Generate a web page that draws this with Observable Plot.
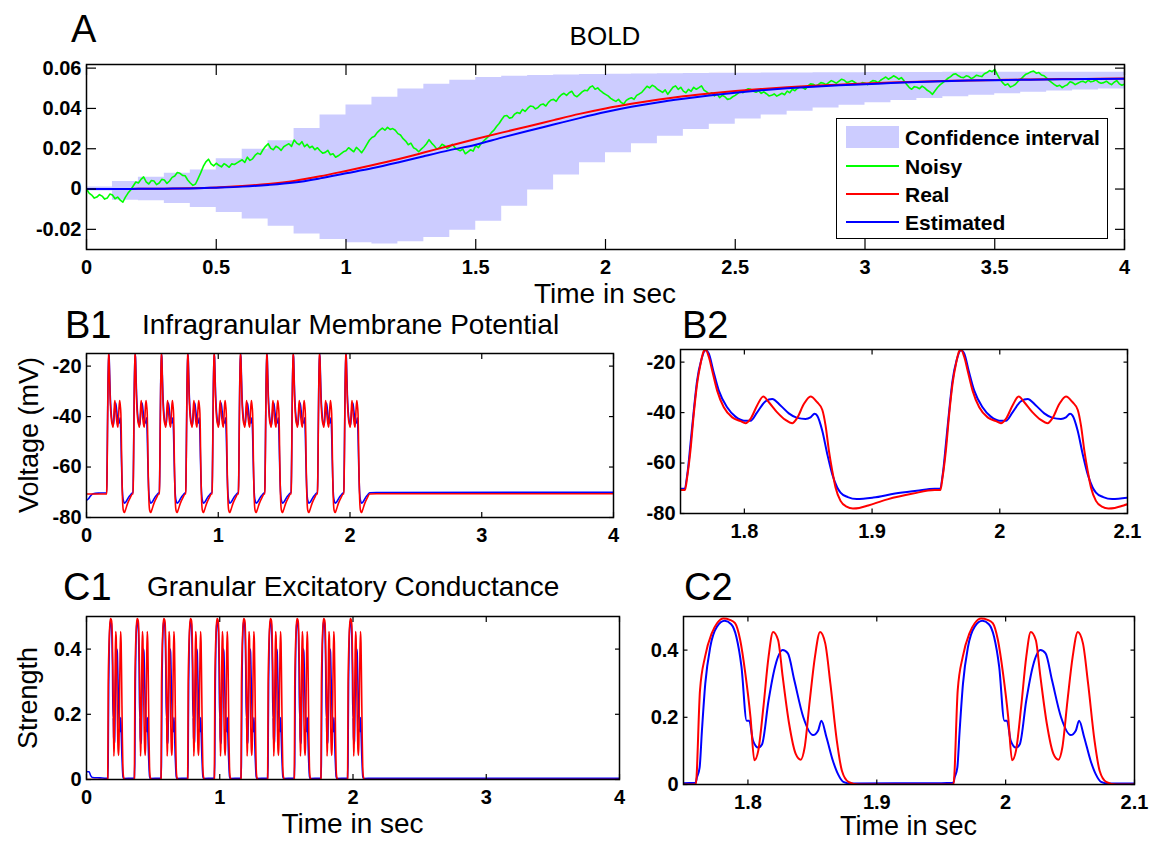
<!DOCTYPE html>
<html><head><meta charset="utf-8">
<script src="https://cdn.jsdelivr.net/npm/d3@7"></script>
<script src="https://cdn.jsdelivr.net/npm/@observablehq/plot@0.6"></script>
<style>
body{margin:0;background:#fff;}
#fig{position:relative;width:1162px;height:841px;font-family:"Liberation Sans",Arial,Helvetica,sans-serif;color:#000;overflow:hidden;background:#fff}
.t{position:absolute;white-space:nowrap;line-height:1}
</style></head><body><div id="fig"></div>
<script>
// ---------- Panel A : BOLD ----------
const boldStep = 0.1; // sampling of real / estimated / band
const bandHi = [0.001,0.0038,0.0058,0.0078,0.0094,0.0150,0.0198,0.0240,0.0300,0.0367,0.0417,0.0455,0.0496,0.0520,0.0540,0.0554,0.0560,0.0564,0.0566,0.0568,0.0570,0.0571,0.0572,0.0573,0.0574,0.0575,0.0576,0.0576,0.0577,0.0577,0.0578,0.0578,0.0578,0.0579,0.0579,0.0579,0.0579,0.0579,0.0579,0.0579,0.0579];
const bandLo = [-0.001,-0.0055,-0.0058,-0.0072,-0.0092,-0.0117,-0.0149,-0.0185,-0.0223,-0.0250,-0.0266,-0.0273,-0.0262,-0.0240,-0.0205,-0.0160,-0.0085,-0.0005,0.0070,0.0130,0.0180,0.0225,0.0262,0.0295,0.0322,0.0347,0.0368,0.0386,0.0402,0.0416,0.0428,0.0439,0.0449,0.0458,0.0466,0.0473,0.0480,0.0486,0.0491,0.0496,0.0500];
const realBold = [0,0,0.0001,0.0002,0.0004,0.0008,0.0015,0.0025,0.004,0.0063,0.009,0.0118,0.0148,0.0181,0.0215,0.0248,0.028,0.031,0.0342,0.0373,0.04,0.0423,0.0443,0.046,0.0474,0.0486,0.0496,0.0505,0.0512,0.0518,0.0524,0.0529,0.0533,0.0536,0.0539,0.0541,0.0543,0.0545,0.0546,0.0547,0.0548];
const estBold = [0,0,0.0001,0.0002,0.0003,0.0007,0.0012,0.002,0.0032,0.0053,0.0078,0.0103,0.0132,0.0163,0.0193,0.022,0.0255,0.0288,0.032,0.0352,0.0382,0.0408,0.043,0.0448,0.0464,0.0478,0.049,0.05,0.0508,0.0515,0.052,0.0526,0.0531,0.0535,0.0538,0.054,0.0542,0.0544,0.0545,0.0546,0.0547];
const noisyStep = 0.01;
const noisyBold = [
0.000,-0.002,-0.003,-0.0045,-0.004,-0.0028,-0.0035,-0.005,-0.0045,-0.0025,
-0.003,-0.0048,-0.004,-0.0055,-0.0065,-0.004,-0.002,-0.0005,0.0015,0.0035,
0.003,0.0048,0.006,0.0035,0.0025,0.0042,0.004,0.0022,0.003,0.0048,
0.0045,0.0028,0.004,0.0058,0.0065,0.0082,0.0078,0.0068,0.0066,0.0045,
0.003,0.0018,0.0025,0.0052,0.008,0.0112,0.0135,0.0148,0.0125,0.0115,
0.0128,0.0118,0.011,0.0126,0.0118,0.0108,0.0125,0.0122,0.013,0.0138,
0.0145,0.0132,0.0158,0.0142,0.015,0.0168,0.0178,0.0172,0.0195,0.0212,
0.0225,0.0202,0.0195,0.0212,0.0205,0.0192,0.021,0.0218,0.0225,0.0212,
0.0243,0.0228,0.022,0.0235,0.021,0.0222,0.0205,0.0212,0.0195,0.0205,
0.019,0.0178,0.0182,0.0192,0.017,0.0175,0.0158,0.0165,0.0175,0.0185,
0.019,0.0205,0.0195,0.0185,0.0207,0.0195,0.018,0.0198,0.022,0.0242,
0.0256,0.0262,0.028,0.0292,0.0302,0.0292,0.0306,0.0296,0.030,0.0292,
0.0275,0.0268,0.025,0.0238,0.022,0.0228,0.0205,0.0198,0.0185,0.0198,
0.021,0.0225,0.0245,0.0228,0.0215,0.0198,0.0205,0.0222,0.0215,0.0202,
0.021,0.0222,0.0205,0.0196,0.019,0.0198,0.0175,0.0185,0.0195,0.0188,
0.0215,0.0205,0.0225,0.0238,0.025,0.0262,0.028,0.0292,0.031,0.0325,
0.0345,0.0362,0.0365,0.0352,0.0355,0.0372,0.038,0.0375,0.0395,0.0385,
0.040,0.0412,0.041,0.0398,0.0405,0.0418,0.0422,0.0412,0.043,0.0442,
0.0445,0.0435,0.0455,0.0468,0.0475,0.0465,0.0478,0.0485,0.0465,0.0458,
0.047,0.0482,0.049,0.0488,0.0505,0.0512,0.0495,0.0502,0.0488,0.0478,
0.047,0.0462,0.045,0.0442,0.0435,0.0445,0.043,0.0422,0.044,0.0448,
0.0453,0.0445,0.0465,0.0472,0.048,0.0495,0.051,0.0502,0.0515,0.0508,
0.0495,0.0488,0.048,0.0492,0.047,0.0488,0.0505,0.0512,0.0495,0.0505,
0.0486,0.0478,0.0495,0.0485,0.0505,0.0495,0.0503,0.0512,0.049,0.0482,
0.047,0.0478,0.0462,0.0472,0.0453,0.0465,0.0458,0.0445,0.0448,0.0458,
0.0465,0.0475,0.0486,0.0478,0.049,0.0498,0.0495,0.0485,0.048,0.0488,
0.0475,0.0482,0.0473,0.0462,0.0465,0.0472,0.0461,0.0468,0.0475,0.0468,
0.0486,0.0478,0.0495,0.0488,0.050,0.0508,0.0503,0.0495,0.0512,0.0522,
0.052,0.0512,0.0518,0.0528,0.0525,0.0518,0.0528,0.0538,0.0532,0.0525,
0.0535,0.0545,0.054,0.0528,0.0532,0.0538,0.053,0.0522,0.052,0.0528,
0.0525,0.0518,0.053,0.0538,0.0536,0.0528,0.054,0.0548,0.0556,0.0545,
0.0552,0.0562,0.0555,0.0545,0.0553,0.0538,0.052,0.0505,0.0495,0.0508,
0.0505,0.0498,0.0511,0.0502,0.049,0.0482,0.047,0.0488,0.0505,0.0518,
0.0528,0.0538,0.055,0.0558,0.0569,0.0572,0.0562,0.0555,0.0553,0.0562,
0.0558,0.0548,0.0555,0.0565,0.0561,0.0558,0.0572,0.0578,0.0588,0.0582,
0.0594,0.0568,0.0545,0.0528,0.0515,0.0522,0.0506,0.0512,0.052,0.0535,
0.0545,0.0558,0.057,0.0575,0.0582,0.0585,0.0575,0.0578,0.0566,0.0562,
0.055,0.0538,0.0528,0.0518,0.051,0.0515,0.0503,0.0512,0.0518,0.0532,
0.0528,0.0518,0.0525,0.0532,0.0535,0.0528,0.054,0.0532,0.0535,0.0542,
0.053,0.0525,0.0528,0.0535,0.0525,0.0518,0.053,0.0538,0.0522,0.0515,
0.052];
const aXTicks = [0,0.5,1,1.5,2,2.5,3,3.5,4];
const aYTicks = [-0.02,0,0.02,0.04,0.06];
const legendLabels = ["Confidence interval","Noisy","Real","Estimated"];

// ---------- Panels B : membrane potential (one burst, offsets from burst start) ----------
const burstOnsets = [0.15,0.35,0.55,0.75,0.95,1.15,1.35,1.55,1.75,1.95];
const vRealDt = [0,0.0035,0.0052,0.0078,0.0104,0.013,0.0157,0.0183,0.0198,0.0222,0.0248,0.0287,0.0339,0.0405,0.047,0.0509,0.0548,0.06,0.0648,0.0692,0.0757,0.0822,0.0875,0.0914,0.0966,0.1018,0.107,0.111,0.1136,0.1162,0.1188,0.1214,0.1253,0.13,0.135,0.140,0.147,0.162,0.182,0.199];
const vRealV = [-70.7,-70.7,-65.7,-55,-40.5,-28.6,-20.7,-15.6,-15.2,-18,-23.3,-31.3,-37.9,-41.9,-43.4,-44.2,-42.5,-37.2,-33.6,-35.9,-39.9,-42.9,-44.2,-42.1,-36.6,-33.6,-35.9,-38.9,-45.2,-55.1,-63,-69.7,-75,-77.3,-78,-77.8,-76.8,-74.4,-72.1,-70.7];
const vEstDt = [0,0.003,0.0057,0.0078,0.0104,0.013,0.0162,0.0196,0.0222,0.0256,0.03,0.0365,0.043,0.0496,0.0548,0.06,0.0666,0.0718,0.0783,0.0848,0.0914,0.0979,0.1018,0.105,0.107,0.111,0.1149,0.1188,0.1227,0.1253,0.131,0.138,0.151,0.168,0.185,0.199];
const vEstV = [-70.2,-70.2,-63,-52.5,-39.2,-27.3,-19.3,-15.3,-16.7,-23.3,-31.3,-37.9,-41.6,-43.2,-43.2,-39.9,-35.5,-34.6,-37.2,-40.3,-42.1,-42.5,-41.9,-40.5,-41.2,-47.2,-56.4,-64.4,-69.7,-71.7,-73.5,-74.3,-73.7,-72.1,-71,-70.2];
const vRealPreT = [0,0.1],   vRealPreV = [-70.7,-70.7];
const vEstPreT = [0,0.015,0.03,0.05,0.1], vEstPreV = [-73.2,-72.6,-71.5,-70.6,-70.3];
const vRealPostT = [2.2,4], vRealPostV = [-70.6,-70.6];
const vEstPostT = [2.2,4],  vEstPostV = [-70.1,-70.0];
const vTicks = [-80,-60,-40,-20];

// ---------- Panels C : excitatory conductance ----------
const cRealDt = [0,0.0095,0.0128,0.0167,0.0219,0.026,0.031,0.036,0.040,0.044,0.048,0.052,0.055,0.058,0.062,0.066,0.0695,0.0734,0.077,0.082,0.087,0.091,0.094,0.098,0.102,0.106,0.110,0.114,0.119,0.123,0.128,0.136,0.199];
const cRealV = [0,0,0.28,0.38,0.45,0.48,0.494,0.49,0.48,0.43,0.33,0.20,0.072,0.10,0.23,0.38,0.454,0.43,0.32,0.18,0.092,0.074,0.11,0.25,0.38,0.454,0.42,0.30,0.13,0.04,0.008,0,0];
const cEstDt = [0,0.0093,0.0105,0.0125,0.0143,0.0169,0.0208,0.026,0.032,0.037,0.041,0.045,0.049,0.051,0.054,0.058,0.061,0.066,0.071,0.077,0.081,0.086,0.093,0.1005,0.1044,0.107,0.111,0.116,0.120,0.124,0.130,0.199];
const cEstV = [0.004,0.005,0.022,0.05,0.16,0.30,0.41,0.47,0.487,0.477,0.44,0.35,0.19,0.19,0.13,0.11,0.12,0.25,0.35,0.40,0.39,0.31,0.20,0.147,0.16,0.19,0.14,0.07,0.03,0.008,0.003,0.004];
const cRealPreT = [0,0.1], cRealPreV = [0,0];
const cEstPreT = [0,0.02,0.03,0.045,0.1], cEstPreV = [0.024,0.024,0.013,0.006,0.005];
const cRealPostT = [2.2,4], cRealPostV = [0,0];
const cEstPostT = [2.2,4], cEstPostV = [0.004,0.004];
const cTicks = [0,0.2,0.4];
const fullTicks = [0,1,2,3,4];
const zoomTicks = [1.8,1.9,2,2.1];

const RED = "#ff0000", BLUE = "#0000ff", GREEN = "#00ff00", BAND = "#ccccff";
const FONT = '"Liberation Sans", Arial, Helvetica, sans-serif';

// ---------- tables ----------
const band = bandHi.map((h, i) => ({t: i * boldStep, hi: h, lo: bandLo[i]}));
const real = realBold.map((v, i) => ({t: i * boldStep, v}));
const est = estBold.map((v, i) => ({t: i * boldStep, v}));
const noisy = noisyBold.map((v, i) => ({t: i * noisyStep, v}));

function series(preT, preV, dt, vals, postT, postV) {
  const out = preT.map((t, i) => ({t, v: preV[i]}));
  for (const o of burstOnsets) dt.forEach((d, i) => out.push({t: o + d, v: vals[i]}));
  postT.forEach((t, i) => out.push({t, v: postV[i]}));
  return out;
}
const vReal = series(vRealPreT, vRealPreV, vRealDt, vRealV, vRealPostT, vRealPostV);
const vEst = series(vEstPreT, vEstPreV, vEstDt, vEstV, vEstPostT, vEstPostV);
const cReal = series(cRealPreT, cRealPreV, cRealDt, cRealV, cRealPostT, cRealPostV);
const cEst = series(cEstPreT, cEstPreV, cEstDt, cEstV, cEstPostT, cEstPostV);

const fig = document.getElementById("fig");

function addPanel(cfg) {
  const [x0, y0, x1, y1] = cfg.frame;
  const ml = 62, mr = 12, mt = 12, mb = 40;
  const tk = cfg.tick;
  const svg = Plot.plot({
    width: x1 - x0 + ml + mr, height: y1 - y0 + mt + mb,
    marginLeft: ml, marginRight: mr, marginTop: mt, marginBottom: mb,
    style: {background: "transparent", fontFamily: FONT, overflow: "visible"},
    x: {domain: cfg.xDomain},
    y: {domain: cfg.yDomain},
    marks: [
      ...cfg.marks,
      Plot.frame({stroke: "#000", strokeWidth: 1.5}),
      Plot.axisX({anchor: "bottom", ticks: cfg.xTicks, tickSize: -tk, tickPadding: 10 + tk, tickFormat: cfg.xFmt, label: null, fontSize: 20, fontWeight: "bold", strokeWidth: 1.2}),
      Plot.axisX({anchor: "top", ticks: cfg.xTicks, tickSize: -tk, fill: "none", label: null, strokeWidth: 1.2}),
      Plot.axisY({anchor: "left", ticks: cfg.yTicks, tickSize: -tk, tickPadding: 5 + tk, tickFormat: cfg.yFmt, label: null, fontSize: 20, fontWeight: "bold", strokeWidth: 1.2}),
      Plot.axisY({anchor: "right", ticks: cfg.yTicks, tickSize: -tk, fill: "none", label: null, strokeWidth: 1.2})
    ]
  });
  svg.style.position = "absolute";
  svg.style.left = (x0 - ml) + "px";
  svg.style.top = (y0 - mt) + "px";
  fig.append(svg);
}

const numFmt = d => String(d);
const aYFmt = d => d === 0 ? "0" : d.toFixed(2);

// Panel A
addPanel({
  frame: [86, 63.5, 1124, 248.5], tick: 10,
  xDomain: [0, 4], yDomain: [-0.030, 0.0618],
  xTicks: aXTicks, yTicks: aYTicks, xFmt: numFmt, yFmt: aYFmt,
  marks: [
    Plot.areaY(band, {x: "t", y1: "lo", y2: "hi", curve: "step-after", fill: BAND, clip: true}),
    Plot.line(noisy, {x: "t", y: "v", stroke: GREEN, strokeWidth: 1.6, clip: true}),
    Plot.line(real, {x: "t", y: "v", stroke: RED, strokeWidth: 2, curve: "monotone-x", clip: true}),
    Plot.line(est, {x: "t", y: "v", stroke: BLUE, strokeWidth: 2, curve: "monotone-x", clip: true})
  ]
});
// Panel B1
addPanel({
  frame: [86, 353, 613, 517], tick: 5,
  xDomain: [0, 4], yDomain: [-80, -15],
  xTicks: fullTicks, yTicks: vTicks, xFmt: numFmt, yFmt: numFmt,
  marks: [
    Plot.line(vEst, {x: "t", y: "v", stroke: BLUE, strokeWidth: 1.6, curve: "monotone-x", clip: true}),
    Plot.line(vReal, {x: "t", y: "v", stroke: RED, strokeWidth: 1.6, curve: "monotone-x", clip: true})
  ]
});
// Panel B2
addPanel({
  frame: [680, 349, 1127, 513], tick: 4.5,
  xDomain: [1.75, 2.1], yDomain: [-80, -15],
  xTicks: zoomTicks, yTicks: vTicks, xFmt: numFmt, yFmt: numFmt,
  marks: [
    Plot.line(vEst, {x: "t", y: "v", stroke: BLUE, strokeWidth: 2, curve: "monotone-x", clip: true}),
    Plot.line(vReal, {x: "t", y: "v", stroke: RED, strokeWidth: 2, curve: "monotone-x", clip: true})
  ]
});
// Panel C1
addPanel({
  frame: [86, 616, 619, 779], tick: 5,
  xDomain: [0, 4], yDomain: [0, 0.5],
  xTicks: fullTicks, yTicks: cTicks, xFmt: numFmt, yFmt: numFmt,
  marks: [
    Plot.line(cEst, {x: "t", y: "v", stroke: BLUE, strokeWidth: 1.6, curve: "monotone-x", clip: true}),
    Plot.line(cReal, {x: "t", y: "v", stroke: RED, strokeWidth: 1.6, curve: "monotone-x", clip: true})
  ]
});
// Panel C2
addPanel({
  frame: [683, 616, 1134, 784], tick: 4.5,
  xDomain: [1.75, 2.1], yDomain: [0, 0.5],
  xTicks: zoomTicks, yTicks: cTicks, xFmt: numFmt, yFmt: numFmt,
  marks: [
    Plot.line(cEst, {x: "t", y: "v", stroke: BLUE, strokeWidth: 2, curve: "monotone-x", clip: true}),
    Plot.line(cReal, {x: "t", y: "v", stroke: RED, strokeWidth: 2, curve: "monotone-x", clip: true})
  ]
});

// ---------- text ----------
function addText(str, x, y, size, opts = {}) {
  const d = document.createElement("div");
  d.className = "t";
  d.textContent = str;
  d.style.fontSize = size + "px";
  if (opts.bold) d.style.fontWeight = "bold";
  if (opts.rotate) {
    d.style.left = (x - 0.3465 * size) + "px";
    d.style.top = y + "px";
    d.style.transform = "translate(-50%,-50%) rotate(-90deg)";
  } else {
    d.style.left = x + "px";
    d.style.top = (y - 0.8465 * size) + "px";
    if (opts.anchor === "middle") d.style.transform = "translateX(-50%)";
  }
  fig.append(d);
  return d;
}
addText("A", 71, 42, 38);
addText("BOLD", 605, 45, 26, {anchor: "middle"});
addText("Time in sec", 605, 304, 28, {anchor: "middle"});
addText("B1", 65, 338, 38);
addText("Infragranular Membrane Potential", 142, 335, 28);
addText("Voltage (mV)", 38, 435, 27, {rotate: true});
addText("B2", 682, 338, 38);
addText("C1", 63, 600, 38);
addText("Granular Excitatory Conductance", 147, 597, 28);
addText("Strength", 37, 698, 27, {rotate: true});
addText("C2", 684, 600, 38);
addText("Time in sec", 352.5, 834, 28, {anchor: "middle"});
addText("Time in sec", 908.5, 836, 27, {anchor: "middle"});

// ---------- legend ----------
function box(l, t, w, h, css) {
  const d = document.createElement("div");
  d.style.position = "absolute";
  d.style.left = l + "px"; d.style.top = t + "px";
  d.style.width = w + "px"; d.style.height = h + "px";
  Object.assign(d.style, css);
  fig.append(d);
}
box(836, 118, 272, 121, {background: "#fff", border: "1.3px solid #000", boxSizing: "border-box"});
box(846, 126, 53, 22, {background: BAND});
box(846, 165, 53, 2, {background: GREEN});
box(846, 193, 53, 2, {background: RED});
box(846, 221, 53, 2, {background: BLUE});
const legendBase = [144.5, 173.5, 201.5, 229.5];
legendLabels.forEach((s, i) => addText(s, 905, legendBase[i], 21, {bold: true}));
</script></body></html>
